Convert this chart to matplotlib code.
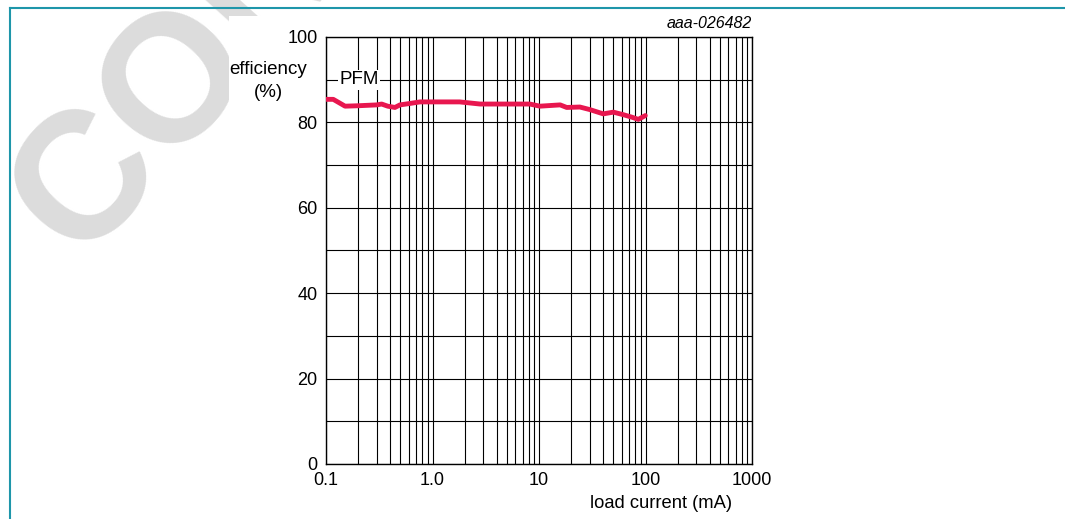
import matplotlib
matplotlib.use('Agg')
import matplotlib.pyplot as plt
import numpy as np
from matplotlib.ticker import FixedLocator, NullFormatter
from matplotlib.lines import Line2D
from matplotlib.patches import Rectangle

plt.rcParams['font.family'] = ['Liberation Sans', 'DejaVu Sans']

# PFM efficiency curve
load_ma = [0.1, 0.117, 0.151, 0.2, 0.3, 0.333, 0.38, 0.444, 0.495, 0.6, 0.763,
           1.0, 1.8, 2.8, 5.0, 8.2, 10.2, 15.8, 18.2, 24.2, 30, 40.1, 49.9, 62,
           75, 85.6, 99.5]
efficiency = [85.4, 85.4, 83.8, 83.9, 84.1, 84.3, 83.8, 83.5, 84.1, 84.4, 84.8,
              84.8, 84.8, 84.3, 84.3, 84.3, 83.8, 84.1, 83.5, 83.6, 83.0, 82.0,
              82.4, 81.8, 81.2, 80.7, 81.6]

x_ticks = [0.1, 1, 10, 100, 1000]
x_labels = ['0.1', '1.0', '10', '100', '1000']
y_ticks = [0, 20, 40, 60, 80, 100]

fig = plt.figure(figsize=(10.65, 5.19), dpi=100)

# watermark
fig.text(0.074, 1 - 262 / 519, 'CONFIDENTIAL', fontsize=130, fontweight='bold',
         color='#dcdcdc', rotation=48, rotation_mode='anchor',
         ha='left', va='baseline', zorder=0)
fig.patches.append(Rectangle((229 / 1065, 0.05), 0.6, 1 - 16 / 519 - 0.05,
                             transform=fig.transFigure, facecolor='white',
                             edgecolor='none', zorder=1))

# frame lines
teal = '#1e96aa'
fig.add_artist(Line2D([10 / 1065, 10 / 1065], [0, 1 - 8 / 519], color=teal, lw=1.5))
fig.add_artist(Line2D([10 / 1065, 1], [1 - 8 / 519, 1 - 8 / 519], color=teal, lw=1.5))

ax = fig.add_axes([326 / 1065, 1 - 464 / 519, 426 / 1065, 427 / 519])
ax.set_zorder(2)
ax.set_xscale('log')
ax.set_xlim(0.1, 1000)
ax.set_ylim(0, 100)

minor_x = [m * 10.0 ** e for e in range(-1, 3) for m in range(2, 10)]
ax.xaxis.set_major_locator(FixedLocator(x_ticks))
ax.xaxis.set_minor_locator(FixedLocator(minor_x))
ax.xaxis.set_minor_formatter(NullFormatter())
ax.set_xticklabels(x_labels)
ax.set_yticks(y_ticks)
ax.yaxis.set_minor_locator(FixedLocator(range(10, 100, 20)))

ax.grid(which='both', color='black', lw=0.8)
ax.tick_params(which='both', length=0, labelsize=13, pad=6)
for s in ax.spines.values():
    s.set_linewidth(1.0)

ax.plot(load_ma, efficiency, color='#e8174f', lw=3.5, solid_capstyle='round',
        solid_joinstyle='round', zorder=3)

ax.text(0.204, 90, 'PFM', fontsize=13.5, ha='center', va='center',
        bbox=dict(facecolor='white', edgecolor='none', pad=1), zorder=4)

fig.text(268 / 1065, 1 - 81 / 519, 'efficiency\n(%)', fontsize=13.5, ha='center',
         va='center', linespacing=1.45, zorder=3)
fig.text(752 / 1065, 1 - 24 / 519, 'aaa-026482', fontsize=11.5, style='italic',
         ha='right', va='center', zorder=3)
fig.text(661 / 1065, 1 - 504 / 519, 'load current (mA)', fontsize=13.2,
         ha='center', va='center', zorder=3)

fig.savefig('out.png', dpi=100)
